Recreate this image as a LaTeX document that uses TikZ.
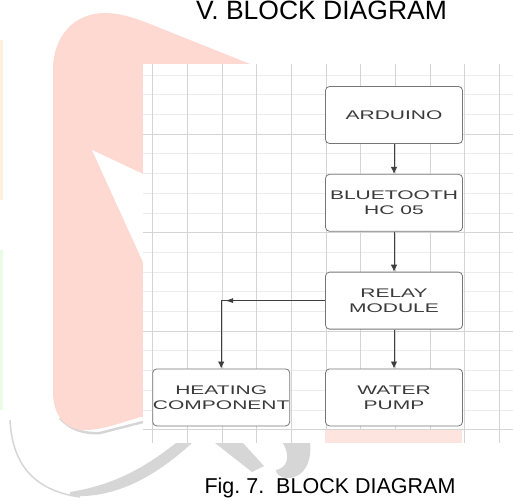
\documentclass[tikz,border=0pt]{standalone}
\usepackage{fontspec}
\setmainfont{Liberation Sans}
\newfontfamily\boxfont[FakeStretch=1.68]{Liberation Sans}
\usetikzlibrary{arrows.meta,positioning,decorations.markings}
\definecolor{wmpink}{RGB}{253,217,209}
\definecolor{wmgrey}{RGB}{214,214,214}
\definecolor{wmorange}{RGB}{255,240,222}
\definecolor{wmgreen}{RGB}{236,250,232}
\definecolor{gridln}{RGB}{212,212,212}
\definecolor{gridfn}{RGB}{236,236,236}
\definecolor{boxedge}{RGB}{118,118,118}
\definecolor{boxink}{RGB}{58,58,58}
\definecolor{arrink}{RGB}{62,62,62}
\tikzset{
  blk/.style={
    draw=boxedge, fill=white, line width=0.8pt, rounded corners=4pt,
    align=center, inner sep=0pt, text=boxink,
    font=\boxfont\fontsize{12.5pt}{15pt}\selectfont,
    minimum width=137pt, minimum height=57pt
  },
  arr/.style={-{Latex[length=7pt,width=6.5pt]}, draw=arrink, line width=0.9pt},
  gridv/.style={draw=gridln, line width=0.8pt},
  gridh/.style={draw=gridfn, line width=0.8pt},
  gridm/.style={draw=gridln, line width=0.8pt},
  wm/.style={fill=wmpink, draw=none},
  wmg/.style={fill=wmgrey, draw=none},
  hdr/.style={font=\fontsize{26.5pt}{30pt}\selectfont, inner sep=0pt, anchor=base},
  capt/.style={font=\fontsize{21.5pt}{25pt}\selectfont, inner sep=0pt, anchor=base}
}
\frenchspacing

\begin{document}
\begin{tikzpicture}[x=1pt,y=-1pt]
  \useasboundingbox (0,0) rectangle (513,500);
  % watermark behind the figure
  \fill[wmorange] (0,40) rectangle (3,200);
  \fill[wmgreen] (0,250) rectangle (3,410);
  \draw[wmgrey, line width=2.5pt] (60,418) .. controls (70,430) and (85,434) .. (100,433) -- (143,422);
  \fill[wm] (53,392) -- (53,70) .. controls (53,35) and (75,13) .. (105,13)
    .. controls (122,13) and (138,19) .. (160,28) -- (260,68) -- (260,417) -- (140,417)
    .. controls (115,425) and (100,430) .. (85,430) .. controls (65,430) and (53,415) .. cycle;
  \fill[white] (92,150) -- (143,174) -- (143,262) -- cycle;
  \draw[wmgrey, line width=1.5pt] (10,420) .. controls (12,460) and (30,490) .. (80,497);
  \fill[wmg] (70,496) .. controls (120,499) and (160,472) .. (192,443) -- (176,443)
    .. controls (150,463) and (120,484) .. (70,492) -- cycle;
  \fill[wmg] (215,443) -- (243,443) -- (264,466) -- (252,472) -- cycle;
  \fill[wmg] (283,443) -- (310,443) .. controls (312,460) and (305,478) .. (288,478)
    .. controls (280,478) and (276,474) .. (276,470) .. controls (285,468) and (292,460) .. cycle;

  % grid sheet
  \fill[white] (143,64) rectangle (513,443);
  \foreach \gy in {0,...,18}
    \draw[gridh] (143,{75+19.7*\gy}) -- (513,{75+19.7*\gy});
  \foreach \gy in {3,8,13,18}
    \draw[gridm] (143,{75+19.7*\gy}) -- (513,{75+19.7*\gy});
  \foreach \gx in {0,...,10}
    \draw[gridv] ({152.5+34.7*\gx},64) -- ({152.5+34.7*\gx},443);
  \fill[wmpink!70] (325,430) rectangle (462,443);

  % blocks
  \node[blk] (ardu) at (394,115) {ARDUINO};
  \node[blk, below=30pt of ardu] (bt) {BLUETOOTH\\HC 05};
  \node[blk, below=40pt of bt] (relay) {RELAY\\MODULE};
  \node[blk, below=39pt of relay] (pump) {WATER\\PUMP};
  \node[blk, left=35pt of pump] (heat) {HEATING\\COMPONENT};

  \draw[arr] (ardu) -- (bt);
  \draw[arr] (bt) -- (relay);
  \draw[arr] (relay) -- (pump);
  \draw[arr, postaction={decorate, decoration={markings,
      mark=at position 100pt with {\arrow{Latex[length=8pt,width=5pt]}}}}]
    (relay.west) -| (heat.north);

  % headings
  \node[hdr] (title) at (321.5,19.5) {V. BLOCK DIAGRAM};
  \node[capt] (cap) at (330,493) {Fig. 7.\ \ BLOCK DIAGRAM};
\end{tikzpicture}
\end{document}
